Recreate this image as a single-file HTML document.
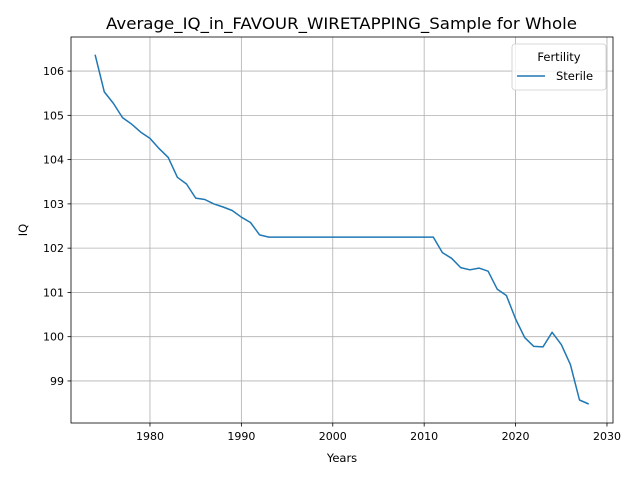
<!DOCTYPE html>
<html><head><meta charset="utf-8"><style>
body{margin:0;background:#fff;}
svg{font-family:"DejaVu Sans","Liberation Sans",sans-serif;}
</style></head><body>
<svg id="chart" width="640" height="480"></svg>
<script>
const years=[];for(let y=1974;y<=2028;y++)years.push(y);
const iqValues=[106.37,105.53,105.27,104.95,104.8,104.62,104.48,104.25,104.05,103.6,103.45,103.13,103.1,103.0,102.93,102.85,102.7,102.58,102.3,102.25,
102.25,102.25,102.25,102.25,102.25,102.25,102.25,102.25,102.25,102.25,102.25,102.25,102.25,102.25,102.25,102.25,102.25,102.25,
101.9,101.77,101.56,101.51,101.55,101.48,101.07,100.93,100.4,99.98,99.78,99.77,100.1,99.82,99.37,98.57,98.48];
const xTicks=[1980,1990,2000,2010,2020,2030];
const yTicks=[99,100,101,102,103,104,105,106];
const L=71,R=613,T=37,B=423;
const xMin=1971.36,xMax=2030.66,yMin=98.05,yMax=106.77;
const sx=v=>L+(v-xMin)/(xMax-xMin)*(R-L);
const sy=v=>B-(v-yMin)/(yMax-yMin)*(B-T);
const NS="http://www.w3.org/2000/svg";
const svg=document.getElementById('chart');
function mk(t,a,txt){const e=document.createElementNS(NS,t);for(const k in a)e.setAttribute(k,a[k]);if(txt!==undefined)e.textContent=txt;svg.appendChild(e);return e;}
xTicks.forEach(v=>{const x=sx(v);
const g=mk('line',{x1:x,x2:x,y1:T,y2:B,stroke:'#b0b0b0','stroke-width':0.8});


mk('line',{x1:x,x2:x,y1:B,y2:B+3.5,stroke:'#000','stroke-width':0.8});
const t=mk('text',{x:x,y:B+17,'font-size':11,'text-anchor':'middle'},v);

});
yTicks.forEach(v=>{const y=sy(v);
const g=mk('line',{x1:L,x2:R,y1:y,y2:y,stroke:'#b0b0b0','stroke-width':0.8});


mk('line',{x1:L-3.5,x2:L,y1:y,y2:y,stroke:'#000','stroke-width':0.8});
const t=mk('text',{x:L-7,y:y+4,'font-size':11,'text-anchor':'end'},v);

});
const pts=years.map((y,i)=>sx(y).toFixed(1)+','+sy(iqValues[i]).toFixed(1)).join(' ');
const line=mk('polyline',{points:pts,fill:'none',stroke:'#1f77b4','stroke-width':1.5,'stroke-linejoin':'round'});


const fr=mk('rect',{x:L,y:T,width:R-L,height:B-T,fill:'none',stroke:'#000','stroke-width':0.8});


const ti=mk('text',{x:106,y:29,'font-size':16,textLength:471,lengthAdjust:'spacingAndGlyphs'},'Average_IQ_in_FAVOUR_WIRETAPPING_Sample for Whole');


const xl=mk('text',{x:342,y:462,'font-size':11.5,'text-anchor':'middle'},'Years');


const yl=mk('text',{x:27,y:230,'font-size':11.5,'text-anchor':'middle',transform:'rotate(-90 27 230)'},'IQ');


const lg=mk('rect',{x:512,y:44,width:94,height:46,rx:3,fill:'#fff','fill-opacity':0.8,stroke:'#ccc','stroke-width':0.8});


const lt=mk('text',{x:559,y:61,'font-size':11.5,'text-anchor':'middle'},'Fertility');


mk('line',{x1:517,x2:545,y1:76,y2:76,stroke:'#1f77b4','stroke-width':1.5});
const le=mk('text',{x:556,y:80,'font-size':11.5},'Sterile');


</script>
</body></html>
